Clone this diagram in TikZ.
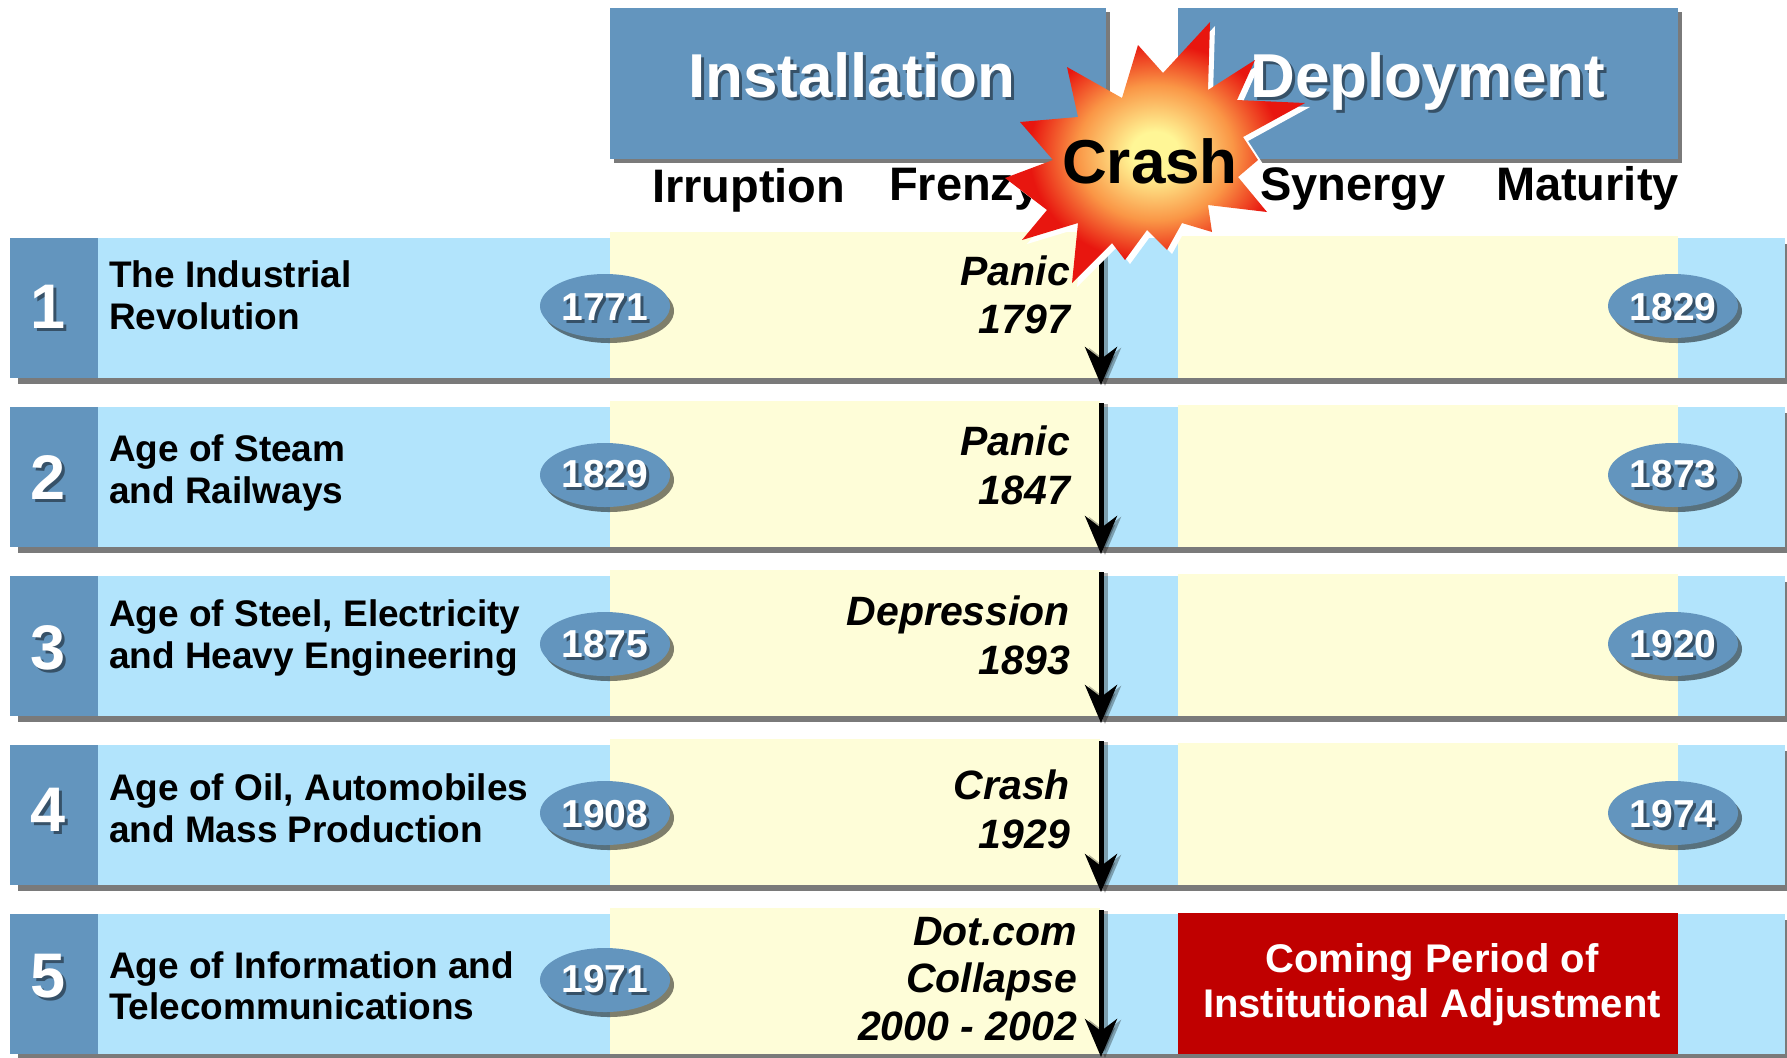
\documentclass[tikz,border=0pt]{standalone}
\usepackage{fontspec}
\setmainfont{Liberation Sans}
\usetikzlibrary{arrows.meta,shapes.geometric}
\definecolor{dblue}{RGB}{99,149,190}
\definecolor{lblue}{RGB}{178,228,252}
\definecolor{lyel}{RGB}{254,253,216}
\definecolor{cred}{RGB}{192,0,0}
\definecolor{shgray}{RGB}{122,122,122}
\definecolor{bursty}{RGB}{255,246,150}
\definecolor{bursto}{RGB}{250,150,70}
\definecolor{burstr}{RGB}{232,22,15}
\pgfdeclareradialshading{burst}{\pgfpoint{0bp}{0bp}}{color(0bp)=(bursty); color(4bp)=(bursty); color(13bp)=(bursto); color(21bp)=(burstr); color(50bp)=(burstr)}
\newcommand{\shnode}[4]{%
  \node[#2,text=black,opacity=0.45] at ([shift={(3,3)}]#3) {#4};
  \node[#2] (#1) at (#3) {#4};}
\begin{document}
\begin{tikzpicture}[x=0.5pt,y=-0.5pt,
  every node/.style={inner sep=0pt,outer sep=0pt},
  hdr/.style={font=\fontsize{31}{36}\selectfont\bfseries,text=white,anchor=base},
  phase/.style={font=\fontsize{23.5}{28}\selectfont\bfseries,anchor=base west},
  ttl/.style={font=\fontsize{18.5}{22}\selectfont\bfseries,anchor=base west},
  num/.style={font=\fontsize{31.5}{36}\selectfont\bfseries,text=white,anchor=base},
  yr/.style={font=\fontsize{19.5}{23}\selectfont\bfseries,text=white,anchor=base},
  evt/.style={font=\fontsize{20.5}{24}\selectfont\bfseries\itshape,anchor=base east},
  redtxt/.style={font=\fontsize{20}{24}\selectfont\bfseries,text=white,anchor=base},
  crashtxt/.style={font=\fontsize{31}{36}\selectfont\bfseries,anchor=base},
  yell/.style={ellipse,fill=dblue,minimum width=65pt,minimum height=32pt},
  yellsh/.style={ellipse,fill=black,opacity=0.5,minimum width=65pt,minimum height=32pt},
  arr/.style={line width=2.5pt,-{Stealth[length=19pt,width=16pt,inset=6pt]}},
  arrsh/.style={arr,draw=black,opacity=0.3}]
\useasboundingbox (0,0) rectangle (1787,1057);
% header boxes
\fill[shgray] (614,12) rectangle (1110,163);
\fill[dblue] (610,8) rectangle (1106,159);
\fill[shgray] (1182,12) rectangle (1682,163);
\fill[dblue] (1178,8) rectangle (1678,159);
\shnode{inst}{hdr}{852,97}{Installation}
\shnode{depl}{hdr}{1428,97}{Deployment}
% phase labels
\node[phase] (irr) at (652,202) {Irruption};
\node[phase] (fre) at (889,200) {Frenzy};
\node[phase] (syn) at (1260,200) {Synergy};
\node[phase] (mat) at (1496,200) {Maturity};
% rows 1-4
\foreach \i/\ta/\tb/\yl/\yrt/\ea/\eb/\dn/\dta/\dtb/\dyr/\dea/\deb in {
  1/The Industrial/Revolution/1771/1829/Panic/1797/20/-21/21/12/-23/25,
  2/Age of Steam/and Railways/1829/1873/Panic/1847/22/-16/26/10/-22/27,
  3/{Age of Steel, Electricity}/and Heavy Engineering/1875/1920/Depression/1893/23/-20/22/11/-21/28,
  4/{Age of Oil, Automobiles}/and Mass Production/1908/1974/Crash/1929/16/-15/27/12/-16/33}{
  \pgfmathsetmacro{\T}{238+169*(\i-1)}
  \pgfmathsetmacro{\B}{\T+140}
  \pgfmathsetmacro{\C}{\T+70}
  \fill[shgray] (18,\T+6) rectangle (1800,\B+6);
  \fill[lblue] (10,\T) rectangle (1785,\B);
  \fill[dblue] (10,\T) rectangle (98,\B);
  \fill[lyel] (610,\T-6) rectangle (1100,\B);
  \fill[lyel] (1178,\T-2) rectangle (1678,\B);
  \shnode{n\i}{num}{48,\C+\dn}{\i}
  \node[ttl] (ta\i) at (109,\C+\dta) {\ta};
  \node[ttl] (tb\i) at (109,\C+\dtb) {\tb};
  \node[yellsh] at (609,\C+3) {};
  \node[yell] (yl\i) at (605,\C-2) {};
  \shnode{ylt\i}{yr}{605,\C+\dyr}{\yl}
  \node[yellsh] at (1677,\C+3) {};
  \node[yell] (yr\i) at (1673,\C-2) {};
  \shnode{yrt\i}{yr}{1673,\C+\dyr}{\yrt}
  \node[evt] (ea\i) at (1070,\C+\dea) {\ea};
  \node[evt] (eb\i) at (1070,\C+\deb) {\eb};
  \coordinate (as\i) at (1101,\T-4);
  \coordinate (ae\i) at (1101,\B+7);
  \draw[arrsh] ([shift={(4,1)}]as\i) -- ([shift={(4,1)}]ae\i);
  \draw[arr] (as\i) -- (ae\i);
}
% row 5
\fill[shgray] (18,920) rectangle (1800,1060);
\fill[lblue] (10,914) rectangle (1785,1054);
\fill[dblue] (10,914) rectangle (98,1054);
\fill[lyel] (610,908) rectangle (1100,1054);
\fill[cred] (1178,913) rectangle (1678,1054);
\shnode{n5}{num}{48,997}{5}
\node[ttl] (ta5) at (109,978) {Age of Information and};
\node[ttl] (tb5) at (109,1019) {Telecommunications};
\node[yellsh] at (609,985) {};
\node[yell] (yl5) at (605,980) {};
\shnode{ylt5}{yr}{605,992}{1971}
\node[evt] (ea5) at (1077,945) {Dot.com};
\node[evt] (eb5) at (1077,992) {Collapse};
\node[evt] (ec5) at (1077,1040) {2000 - 2002};
\node[redtxt] (rb1) at (1432,972) {Coming Period of};
\node[redtxt] (rb2) at (1432,1017) {Institutional Adjustment};
\coordinate (as5) at (1101,910);
\coordinate (ae5) at (1101,1057);
\draw[arrsh] ([shift={(4,1)}]as5) -- ([shift={(4,1)}]ae5);
\draw[arr] (as5) -- (ae5);
% crash burst
\fill[white,shift={(5,4)}] (1210,22) -- (1208,90) -- (1255,60) -- (1237,100) -- (1305,103) -- (1243,137) -- (1258,160) -- (1238,177) -- (1267,212) -- (1208,205) -- (1212,232) -- (1182,223) -- (1167,250) -- (1147,230) -- (1125,260) -- (1112,243) -- (1072,283) -- (1078,223) -- (1022,240) -- (1047,210) -- (1005,178) -- (1053,160) -- (1020,122) -- (1078,117) -- (1067,67) -- (1122,98) -- (1138,45) -- (1163,73) -- cycle;
\shade[shading=burst] (1210,22) -- (1208,90) -- (1255,60) -- (1237,100) -- (1305,103) -- (1243,137) -- (1258,160) -- (1238,177) -- (1267,212) -- (1208,205) -- (1212,232) -- (1182,223) -- (1167,250) -- (1147,230) -- (1125,260) -- (1112,243) -- (1072,283) -- (1078,223) -- (1022,240) -- (1047,210) -- (1005,178) -- (1053,160) -- (1020,122) -- (1078,117) -- (1067,67) -- (1122,98) -- (1138,45) -- (1163,73) -- cycle;
\node[crashtxt] (crash) at (1150,183) {Crash};
\end{tikzpicture}
\end{document}
